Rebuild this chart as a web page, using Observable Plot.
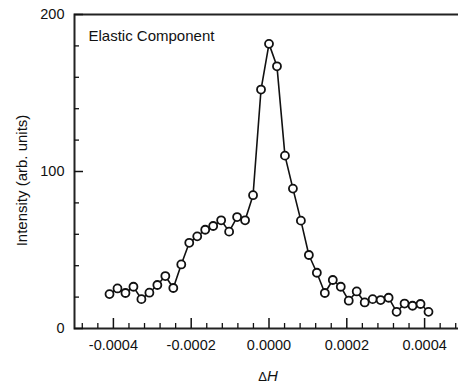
<!DOCTYPE html>
<html><head><meta charset="utf-8">
<script src="https://cdn.jsdelivr.net/npm/d3@7"></script>
<script src="https://cdn.jsdelivr.net/npm/@observablehq/plot@0.6"></script>
<style>body{margin:0;background:#fff;overflow:hidden} svg{display:block}</style>
</head><body><div id="chart"></div>
<script>
const deltaH = [-0.00041, -0.0003895, -0.000369, -0.0003485, -0.000328, -0.0003075, -0.000287, -0.0002665, -0.000246, -0.0002255,
  -0.000205, -0.0001845, -0.000164, -0.0001435, -0.000123, -0.0001025, -0.000082, -0.0000615, -0.000041, -0.0000205,
  0, 0.0000205, 0.000041, 0.0000615, 0.000082, 0.0001025, 0.000123, 0.0001435, 0.000164, 0.0001845,
  0.000205, 0.0002255, 0.000246, 0.0002665, 0.000287, 0.0003075, 0.000328, 0.0003485, 0.000369, 0.0003895, 0.00041];
const intensity = [21.9, 25.5, 22.6, 26.6, 18.7, 22.8, 27.7, 33.4, 25.8, 40.8,
  54.6, 58.7, 62.9, 65.3, 68.9, 61.7, 71.0, 68.9, 84.9, 152.2,
  181.3, 167.0, 110.1, 89.1, 68.7, 46.8, 35.5, 22.6, 30.9, 26.6,
  17.7, 23.6, 16.6, 18.7, 18.1, 19.6, 10.6, 15.9, 14.5, 15.6, 10.6];
const xMajorTicks = [-0.0004, -0.0002, 0, 0.0002, 0.0004];
const xMinorTicks = [-0.00048, -0.00044, -0.00036, -0.00032, -0.00028, -0.00024, -0.00016, -0.00012, -0.00008, -0.00004,
  0.00004, 0.00008, 0.00012, 0.00016, 0.00024, 0.00028, 0.00032, 0.00036, 0.00044, 0.00048];
const yMajorTicks = [0, 100, 200];
const yMinorTicks = [20, 40, 60, 80, 120, 140, 160, 180];
const panelLabel = "Elastic Component";
const xLabel = "ΔH";
const yLabel = "Intensity (arb. units)";

const data = deltaH.map((x, i) => ({x, y: intensity[i]}));

const W = 458, H = 384, mL = 74, mR = -5, mT = 14, mB = 56;
const plotW = W - mL - mR, plotH = H - mT - mB;

const chart = Plot.plot({
  width: W, height: H,
  marginLeft: mL, marginRight: mR, marginTop: mT, marginBottom: mB,
  style: {fontFamily: "'Liberation Sans', Arial, sans-serif", fontSize: "15px", color: "#111", background: "#fff"},
  x: {domain: [-0.0005, 0.0005]},
  y: {domain: [0, 200]},
  marks: [
    Plot.frame({stroke: "#222", strokeWidth: 2}),
    Plot.tickX(xMajorTicks, {x: d => d, insetTop: plotH - 10, stroke: "#111", strokeWidth: 1.5}),
    Plot.tickX(xMinorTicks, {x: d => d, insetTop: plotH - 5, stroke: "#111", strokeWidth: 1.3}),
    Plot.tickY(yMajorTicks, {y: d => d, insetRight: plotW - 9, stroke: "#111", strokeWidth: 1.5}),
    Plot.tickY(yMinorTicks, {y: d => d, insetRight: plotW - 5, stroke: "#111", strokeWidth: 1.3}),
    Plot.axisX(xMajorTicks, {tickSize: 0, tickPadding: 11, tickFormat: d => d.toFixed(4), fontSize: 14.5, label: null}),
    Plot.axisY(yMajorTicks, {tickSize: 0, tickPadding: 10, fontSize: 14.5, label: null}),
    Plot.line(data, {x: "x", y: "y", stroke: "#111", strokeWidth: 1.6}),
    Plot.dot(data, {x: "x", y: "y", r: 4, fill: "#fff", stroke: "#111", strokeWidth: 1.8}),
    Plot.text([panelLabel], {frameAnchor: "top-left", textAnchor: "start", lineAnchor: "top", dx: 14, dy: 16, fontSize: 15, fill: "#111"}),
    Plot.text([yLabel], {frameAnchor: "left", textAnchor: "middle", lineAnchor: "middle", rotate: -90, dx: -52, dy: 9, fontSize: 15, fill: "#111"}),
    Plot.text([xLabel], {frameAnchor: "bottom", lineAnchor: "middle", dx: -1, dy: 48, fontSize: 15, fill: "#111"})
  ]
});

chart.querySelectorAll("text").forEach(t => {
  if (t.textContent === xLabel) {
    t.textContent = "";
    const a = document.createElementNS("http://www.w3.org/2000/svg", "tspan");
    a.textContent = "Δ"; a.setAttribute("font-size", "13");
    const b = document.createElementNS("http://www.w3.org/2000/svg", "tspan");
    b.textContent = "H"; b.setAttribute("font-style", "italic");
    t.appendChild(a); t.appendChild(b);
  }
});

document.getElementById("chart").appendChild(chart);
</script>
</body></html>
